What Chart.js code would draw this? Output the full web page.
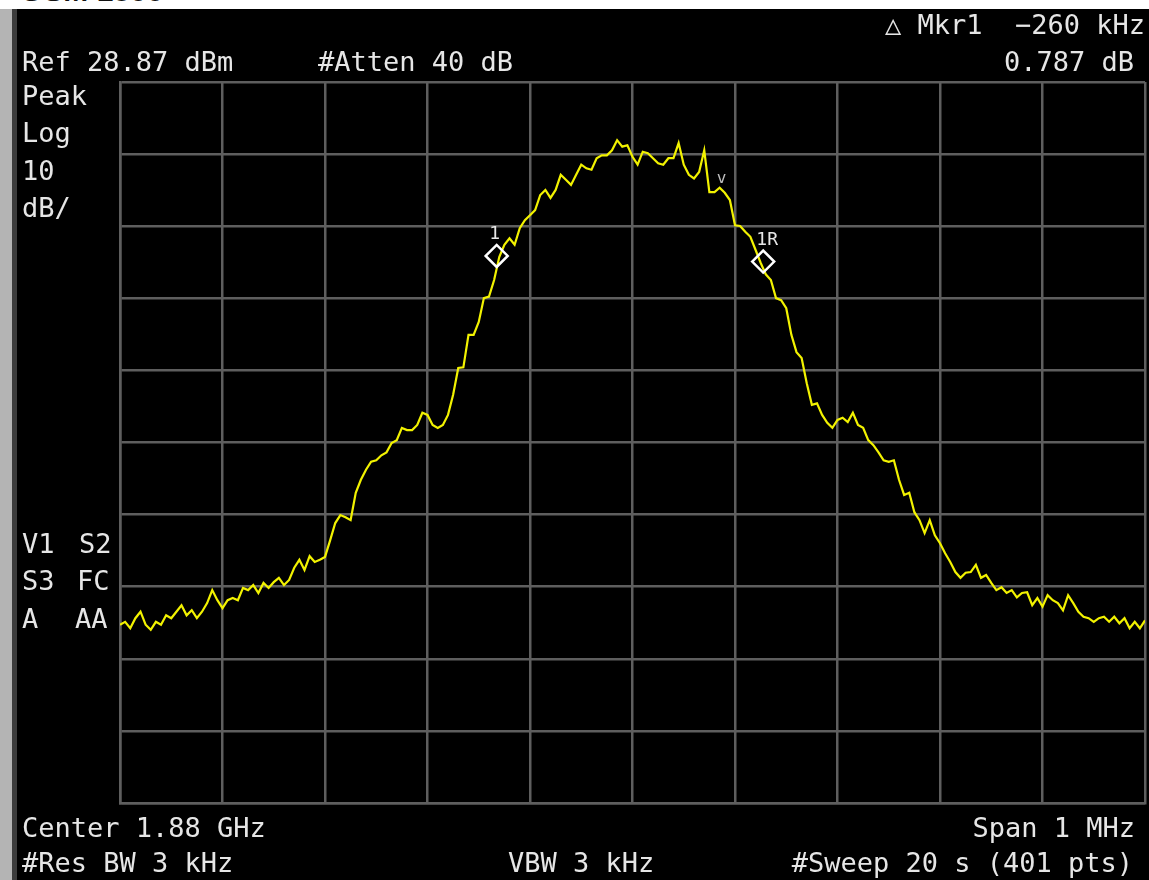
<!DOCTYPE html>
<html>
<head>
<meta charset="utf-8">
<script src="https://cdn.jsdelivr.net/npm/chart.js@4/dist/chart.umd.min.js"></script>
<style>
  html, body { margin: 0; padding: 0; background: #fff; }
  #page { position: relative; width: 1149px; height: 880px; overflow: hidden; background: #fff; }
  #title { position: absolute; left: 20px; top: -26px; font: bold 30px "Liberation Sans", Arial, sans-serif; color: #111; }
  #bar { position: absolute; left: 0; top: 9px; width: 12px; height: 871px; background: #b4b4b4; }
  #bar2 { position: absolute; left: 12px; top: 9px; width: 5px; height: 871px; background: #3c3c3c; }
  #panel { position: absolute; left: 17px; top: 9px; right: 0; bottom: 0; background: #000; }
  canvas { position: absolute; left: 0; top: 0; }
  .t { position: absolute; font: 27px "DejaVu Sans Mono", monospace; line-height: 27px; color: #e6e6e6; white-space: pre; }
  .r { text-align: right; }
</style>
</head>
<body>
<div id="page">
  <div id="title">GSM 1800</div>
  <div id="bar"></div>
  <div id="bar2"></div>
  <div id="panel"></div>
  <canvas id="c" width="1149" height="880"></canvas>

  <div class="t" style="left:22px;top:48px">Ref 28.87 dBm</div>
  <div class="t" style="left:318px;top:48px">#Atten 40 dB</div>
  <div class="t r" style="right:4px;top:11px">△ Mkr1  −260 kHz</div>
  <div class="t r" style="right:15px;top:48px">0.787 dB</div>

  <div class="t" style="left:22px;top:82px">Peak</div>
  <div class="t" style="left:22px;top:119px">Log</div>
  <div class="t" style="left:22px;top:157px">10</div>
  <div class="t" style="left:22px;top:194px">dB/</div>

  <div class="t" style="left:22px;top:530px">V1</div>
  <div class="t" style="left:79px;top:530px">S2</div>
  <div class="t" style="left:22px;top:567px">S3</div>
  <div class="t" style="left:77px;top:567px">FC</div>
  <div class="t" style="left:22px;top:605px">A</div>
  <div class="t" style="left:75px;top:605px">AA</div>

  <div class="t" style="left:22px;top:814px">Center 1.88 GHz</div>
  <div class="t r" style="right:14px;top:814px">Span 1 MHz</div>
  <div class="t" style="left:22px;top:849px">#Res BW 3 kHz</div>
  <div class="t" style="left:508px;top:849px">VBW 3 kHz</div>
  <div class="t r" style="right:16px;top:849px">#Sweep 20 s (401 pts)</div>
</div>

<script>
// sweep: centre 1.88 GHz, span 1 MHz, offsets in kHz
const SWEEP_START_KHZ = -500;
const SWEEP_STEP_KHZ = 5;

// trace (dBm), every 5 kHz
const traceDbm = [
  -46.4, -46.0, -46.9, -45.5, -44.6, -46.4, -47.1, -46.0, -46.4, -45.1,
  -45.5, -44.6, -43.7, -45.1, -44.4, -45.5, -44.6, -43.4, -41.6, -43.0,
  -44.1, -43.0, -42.7, -43.0, -41.3, -41.6, -40.9, -42.0, -40.6, -41.3,
  -40.5, -39.9, -40.9, -40.2, -38.5, -37.4, -38.8, -36.9, -37.7, -37.4,
  -37.0, -34.7, -32.3, -31.2, -31.5, -31.9, -28.1, -26.3, -24.9, -23.8,
  -23.6, -22.9, -22.5, -21.2, -20.8, -19.1, -19.4, -19.4, -18.7, -17.0,
  -17.3, -18.7, -19.1, -18.7, -17.3, -14.5, -10.8, -10.7, -6.2, -6.2,
  -4.4, -1.1, -0.9, 1.4, 4.6, 6.3, 7.2, 6.3, 8.6, 9.7,
  10.4, 11.1, 13.2, 13.9, 12.8, 13.9, 16.0, 15.3, 14.6, 16.0,
  17.4, 16.9, 16.7, 18.3, 18.7, 18.7, 19.4, 20.8, 19.9, 20.1,
  18.5, 17.4, 19.2, 19.0, 18.3, 17.6, 17.4, 18.3, 18.3, 20.4,
  17.4, 16.0, 15.5, 16.4, 19.4, 13.6, 13.6, 14.2, 13.5, 12.5,
  9.0, 8.9, 8.1, 7.4, 5.6, 3.8, 2.2, 1.4, -1.1, -1.4,
  -2.5, -6.2, -8.6, -9.4, -12.9, -15.9, -15.7, -17.3, -18.4, -19.1,
  -18.0, -17.7, -18.3, -17.0, -18.7, -19.1, -20.8, -21.5, -22.5, -23.6,
  -23.8, -23.6, -26.3, -28.4, -28.1, -30.8, -31.9, -33.7, -31.9, -34.0,
  -35.1, -36.5, -37.7, -39.1, -39.9, -39.2, -39.1, -38.1, -39.9, -39.5,
  -40.6, -41.6, -41.2, -42.0, -41.6, -42.6, -42.0, -41.9, -43.7, -42.7,
  -43.9, -42.3, -43.0, -43.4, -44.4, -42.3, -43.4, -44.6, -45.3, -45.5,
  -46.0, -45.5, -45.3, -46.0, -45.3, -46.2, -45.5, -46.9, -46.0, -46.9,
  -45.8
];

// graticule: ref level 28.87 dBm, 10 dB/div
const yTicks = [28.87, 18.87, 8.87, -1.13, -11.13, -21.13, -31.13, -41.13, -51.13, -61.13, -71.13];
const xTicks = [-500, -400, -300, -200, -100, 0, 100, 200, 300, 400, 500];

// markers: 1 and its reference 1R (delta -260 kHz, 0.787 dB)
const markerKhz = [-132.5, 127.5];
const markerDbm = [4.75, 3.96];
const markerNames = ["1", "1R"];
// little peak caret
const caretKhz = 87;
const caretDbm = 13.2;

const tracePts = traceDbm.map((v, i) => ({ x: SWEEP_START_KHZ + i * SWEEP_STEP_KHZ, y: v }));
const markerPts = markerKhz.map((f, i) => ({ x: f, y: markerDbm[i] }));

const GRID = "#5e5e5e";

const markerLabels = {
  id: "markerLabels",
  afterDatasetsDraw(chart) {
    const { ctx, scales } = chart;
    ctx.save();
    ctx.fillStyle = "#e6e6e6";
    ctx.font = '18px "DejaVu Sans Mono", monospace';
    ctx.textAlign = "center";
    markerPts.forEach((p, i) => {
      const px = scales.x.getPixelForValue(p.x);
      const py = scales.y.getPixelForValue(p.y);
      ctx.fillText(markerNames[i], px + (i ? 4 : -2), py - 17);
    });
    ctx.fillStyle = "#bdbdbd";
    ctx.font = '16px "DejaVu Sans Mono", monospace';
    ctx.fillText("v", scales.x.getPixelForValue(caretKhz), scales.y.getPixelForValue(caretDbm) - 12);
    ctx.restore();
  }
};

const axisCommon = {
  type: "linear",
  ticks: { display: false },
  grid: { color: GRID, lineWidth: 2.5, drawTicks: false },
  border: { display: true, color: GRID, width: 2.5 }
};

new Chart(document.getElementById("c"), {
  type: "line",
  data: {
    datasets: [
      {
        data: tracePts,
        borderColor: "#f2f200",
        borderWidth: 2.2,
        pointRadius: 0,
        tension: 0,
        order: 2
      },
      {
        type: "scatter",
        data: markerPts,
        pointStyle: "rectRot",
        pointRadius: 11,
        borderColor: "#ffffff",
        borderWidth: 2.5,
        backgroundColor: "rgba(0,0,0,0)",
        order: 1
      }
    ]
  },
  options: {
    responsive: false,
    animation: false,
    devicePixelRatio: 1,
    layout: { autoPadding: false, padding: { left: 120, top: 82, right: 4, bottom: 77 } },
    plugins: { legend: { display: false }, tooltip: { enabled: false } },
    scales: {
      x: {
        ...axisCommon,
        min: -500,
        max: 500,
        afterBuildTicks: (axis) => { axis.ticks = xTicks.map((v) => ({ value: v })); }
      },
      y: {
        ...axisCommon,
        min: -71.13,
        max: 28.87,
        afterBuildTicks: (axis) => { axis.ticks = yTicks.map((v) => ({ value: v })); }
      }
    }
  },
  plugins: [markerLabels]
});
</script>
</body>
</html>
